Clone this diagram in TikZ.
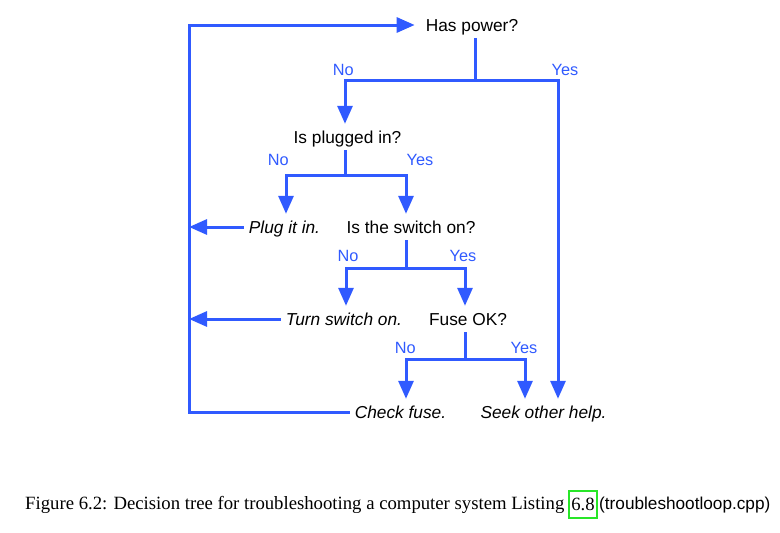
\documentclass[tikz,border=0pt]{standalone}
\usepackage{fontspec}
\setmainfont{Liberation Sans}
\newfontfamily\capserif{Liberation Serif}
\usetikzlibrary{arrows.meta}
\definecolor{tblue}{RGB}{48,90,255}
\definecolor{boxgreen}{RGB}{40,230,40}
\tikzset{
  q/.style={inner sep=0pt, inner xsep=5pt, text height=12pt, text depth=0pt, minimum height=26pt, font=\fontsize{17.3}{20}\selectfont},
  act/.style={q, font=\fontsize{17.3}{20}\selectfont\itshape},
  lab/.style={inner sep=0pt, text=tblue, font=\fontsize{16.3}{19}\selectfont},
  wire/.style={draw=tblue, line width=3pt},
  arr/.style={wire, -{Triangle[width=15pt,length=18pt]}},
}
\begin{document}
\begin{tikzpicture}[x=1pt,y=-1pt]
\useasboundingbox (0,0) rectangle (780,533);
% question and action nodes
\node[q] (hp) at (472,25) {Has power?};
\node[q] (pl) at (347.5,137) {Is plugged in?};
\node[act] (pi) at (284.5,227) {Plug it in.};
\node[q] (sw) at (411,227) {Is the switch on?};
\node[act] (ts) at (344,319) {Turn switch on.};
\node[q] (fo) at (468,319) {Fuse OK?};
\node[act] (ck) at (400.5,412) {Check fuse.};
\node[act] (sh) at (543.5,412) {Seek other help.};
% junctions
\coordinate (j1) at (475,80);
\coordinate (j2) at (345,175);
\coordinate (j3) at (406,268);
\coordinate (j4) at (465,359);
% branch labels
\node[lab] (n1) at (343.3,70) {No};
\node[lab] (y1) at (565,70) {Yes};
\node[lab] (n2) at (278.3,160) {No};
\node[lab] (y2) at (420,160) {Yes};
\node[lab] (n3) at (348,256) {No};
\node[lab] (y3) at (463,256) {Yes};
\node[lab] (n4) at (405.3,348) {No};
\node[lab] (y4) at (524,348) {Yes};
% tree connectors
\draw[wire] (hp.south -| j1) -- (j1);
\draw[arr] (j1) -| (pl.north -| j2);
\draw[arr] (j1) -| (sh.north -| 558,0);
\draw[wire] (pl.south -| j2) -- (j2);
\draw[arr] (j2) -| (pi.north -| 286,0);
\draw[arr] (j2) -| (sw.north -| j3);
\draw[wire] (sw.south -| j3) -- (j3);
\draw[arr] (j3) -| (ts.north -| 346,0);
\draw[arr] (j3) -| (fo.north -| j4);
\draw[wire] (fo.south -| j4) -- (j4);
\draw[arr] (j4) -| (ck.north -| 406,0);
\draw[arr] (j4) -| (sh.north -| 525,0);
% return loop
\draw[arr] (pi.west) -- (pi.west -| 189,0);
\draw[arr] (ts.west) -- (ts.west -| 189,0);
\draw[arr] (ck.west) -| (hp.west -| 189,0) -- ([xshift=-6pt]hp.west);
% caption
\node[inner sep=0pt, anchor=base west, font=\capserif\fontsize{18.72}{22}\selectfont] (cap) at (25,509) {Figure 6.2: Decision tree for troubleshooting a computer system Listing};
\node[draw=boxgreen, line width=1.5pt, inner sep=0pt, minimum width=28pt, minimum height=27pt, text height=12.7pt, text depth=0pt, font=\capserif\fontsize{18.7}{22}\selectfont] (ref) at (583,504.5) {6.8};
\node[inner sep=0pt, anchor=base west, font=\fontsize{17.2}{20}\selectfont] (file) at (599,509) {(troubleshootloop.cpp)};
\end{tikzpicture}
\end{document}
